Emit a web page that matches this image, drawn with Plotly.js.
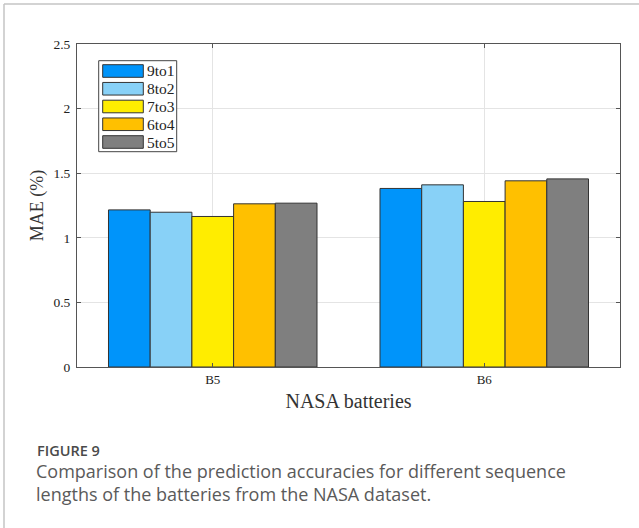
<!DOCTYPE html>
<html>
<head>
<meta charset="utf-8">
<script src="https://cdn.plot.ly/plotly-3.0.1.min.js"></script>
<style>html,body{margin:0;padding:0;background:#fff;}#chart{width:639px;height:528px;}</style>
</head>
<body>
<div id="chart"></div>
<script>
// ---- data ----
const categories = ["B5", "B6"];
const seriesNames = ["9to1", "8to2", "7to3", "6to4", "5to5"];
const val9to1 = [1.216, 1.382];
const val8to2 = [1.198, 1.410];
const val7to3 = [1.165, 1.281];
const val6to4 = [1.263, 1.441];
const val5to5 = [1.268, 1.456];
const yTickVals = [0, 0.5, 1, 1.5, 2, 2.5];
const yTickText = ["0", "0.5", "1", "1.5", "2", "2.5"];
const captionLabel = "FIGURE 9";
const captionLines = [
  "Comparison of the prediction accuracies for different sequence",
  "lengths of the batteries from the NASA dataset."
];

// ---- styles ----
const seriesValues = [val9to1, val8to2, val7to3, val6to4, val5to5];
const colors = ["#0094FA", "#88D1F7", "#FFED00", "#FFC000", "#7F7F7F"];
const SERIF = "Liberation Serif";
const W = 639, H = 528;
const M = {l: 77, r: 19, t: 44, b: 161};
const PW = W - M.l - M.r, PH = H - M.t - M.b;
const px = x => (x - M.l) / PW;
const py = y => (H - M.b - y) / PH;

const traces = seriesNames.map((n, i) => ({
  type: "bar", name: n, x: categories, y: seriesValues[i],
  marker: {color: colors[i], line: {color: "#333333", width: 1}},
  showlegend: false, hoverinfo: "skip"
}));

const shapes = [];
const annotations = [];
// legend box
shapes.push({type: "rect", xref: "paper", yref: "paper",
  x0: px(98.7), x1: px(176.7), y0: py(151.7), y1: py(60.7),
  line: {color: "#444", width: 1}, fillcolor: "#fff"});
seriesNames.forEach((n, i) => {
  const cy = 71 + i * 17.75;
  shapes.push({type: "rect", xref: "paper", yref: "paper",
    x0: px(102.7), x1: px(143.3), y0: py(cy + 6.3), y1: py(cy - 6.3),
    line: {color: "#333", width: 1}, fillcolor: colors[i]});
  annotations.push({xref: "paper", yref: "paper", x: px(145), y: py(cy),
    xanchor: "left", yanchor: "middle", showarrow: false, text: n,
    font: {family: SERIF, size: 15.5, color: "#222"}});
});
// outer figure frame (top and left)
shapes.push({type: "line", xref: "paper", yref: "paper",
  x0: px(4), x1: px(650), y0: py(4), y1: py(4), line: {color: "#c4c4c4", width: 1.5}});
shapes.push({type: "line", xref: "paper", yref: "paper",
  x0: px(4), x1: px(4), y0: py(4), y1: py(540), line: {color: "#c4c4c4", width: 1.5}});
// caption
annotations.push({xref: "paper", yref: "paper", x: px(35), y: py(451),
  xanchor: "left", yanchor: "middle", showarrow: false, text: captionLabel,
  font: {family: "Open Sans", size: 14.5, color: "#4a4a4a", weight: 600}});
annotations.push({xref: "paper", yref: "paper", x: px(34), y: py(482.5),
  xanchor: "left", yanchor: "middle", align: "left", showarrow: false,
  text: captionLines.join("<br>"),
  font: {family: "Open Sans", size: 18, color: "#5a5a5a"}});

const layout = {
  width: W, height: H,
  margin: M,
  paper_bgcolor: "#fff", plot_bgcolor: "#fff",
  barmode: "group", bargap: 0.232, bargroupgap: 0,
  showlegend: false,
  xaxis: {
    type: "category", range: [-0.5, 1.5],
    showline: true, linecolor: "#555", linewidth: 1, mirror: "ticks",
    ticks: "inside", ticklen: 4, tickcolor: "#555",
    showgrid: true, gridcolor: "#e4e4e4", gridwidth: 1,
    tickfont: {family: SERIF, size: 13, color: "#222"},
    title: {text: "NASA batteries", standoff: 8,
      font: {family: SERIF, size: 20, color: "#333"}}
  },
  yaxis: {
    range: [0, 2.5], tickvals: yTickVals, ticktext: yTickText,
    showline: true, linecolor: "#555", linewidth: 1, mirror: "ticks",
    ticks: "inside", ticklen: 4, tickcolor: "#555",
    showgrid: true, gridcolor: "#e4e4e4", gridwidth: 1, zeroline: false,
    tickfont: {family: SERIF, size: 13.5, color: "#222"},
    ticklabelstandoff: 3,
    title: {text: "MAE (%)", standoff: 5,
      font: {family: SERIF, size: 18, color: "#333"}}
  },
  shapes: shapes,
  annotations: annotations
};

Plotly.newPlot("chart", traces, layout, {displayModeBar: false, staticPlot: true});
</script>
</body>
</html>
